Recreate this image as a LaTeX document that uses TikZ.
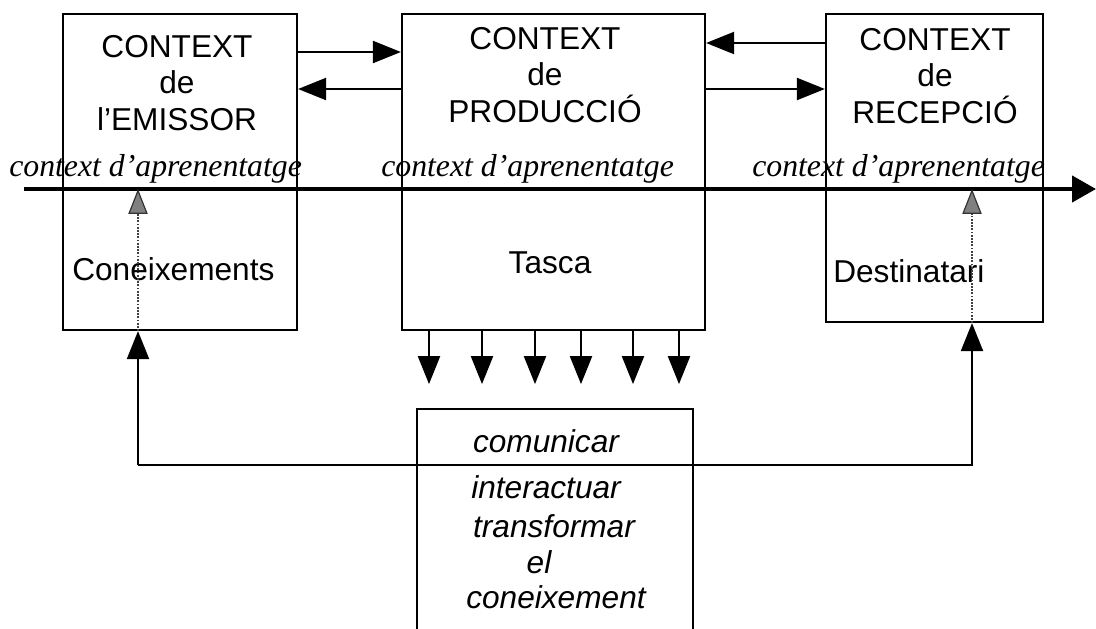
\documentclass[tikz,border=0pt]{standalone}
\usepackage{fontspec}
\setmainfont{Liberation Serif}
\setsansfont{Liberation Sans}
\usetikzlibrary{arrows.meta}

\tikzset{
  caixa/.style={draw, line width=0.55mm, inner sep=0pt},
  titol/.style={font=\sffamily\fontsize{22.5}{26}\selectfont, align=center, anchor=north, inner sep=0pt},
  etiqueta/.style={font=\sffamily\fontsize{22.5}{26}\selectfont, inner sep=0pt},
  aprenent/.style={font=\rmfamily\itshape\fontsize{22.6}{26}\selectfont, inner sep=0pt, anchor=base west},
  accio/.style={font=\sffamily\itshape\fontsize{22.5}{26}\selectfont, inner sep=0pt, anchor=base},
  fletxa/.style={line width=0.55mm, -{Triangle[width=5.5mm,length=7mm]}},
  eix/.style={line width=1.1mm, -{Triangle[width=6.5mm,length=6mm]}},
  puntejat/.style={draw=black!75, line width=0.45mm, densely dotted,
    -{Triangle[width=4.8mm,length=6.2mm,fill=black!50,color=black!80,line width=0.3mm]}}
}

\begin{document}
\begin{tikzpicture}[x=0.25mm,y=-0.25mm]
  \useasboundingbox (0,0) rectangle (1096,629);
  \clip (0,0) rectangle (1096,629);

  % els tres contextos
  \node[caixa, minimum width=58.5mm, minimum height=79mm] (emissor) at (180,172) {};
  \node[caixa, minimum width=75.75mm, minimum height=79mm] (produccio) at (553.5,172) {};
  \node[caixa, minimum width=54.25mm, minimum height=77mm] (recepcio) at (934.5,168) {};
  \node[caixa, minimum width=69mm, minimum height=75.5mm] (tasques) at (555,560) {};

  \node[titol] (temissor) at (177,35) {CONTEXT\\de\\l'EMISSOR};
  \node[titol] (tproduccio) at (545,27) {CONTEXT\\de\\PRODUCCIÓ};
  \node[titol] (trecepcio) at (935,28) {CONTEXT\\de\\RECEPCIÓ};

  % eix del context d'aprenentatge
  \coordinate (eixA) at (24,189);
  \coordinate (eixB) at (1096,189);
  \draw[eix] (eixA) -- (eixB);
  \node[aprenent] (apr1) at (9,176) {context d'aprenentatge};
  \node[aprenent] (apr2) at (381,176) {context d'aprenentatge};
  \node[aprenent] (apr3) at (752,176) {context d'aprenentatge};

  \node[etiqueta, anchor=base west] (coneix) at (72,280) {Coneixements};
  \node[etiqueta, anchor=base] (tasca) at (550,273) {Tasca};
  \node[etiqueta, anchor=base west] (desti) at (833,282) {Destinatari};

  % fletxes entre contextos
  \draw[fletxa] (emissor.east |- 0,52) -- (produccio.west |- 0,52);
  \draw[fletxa] (produccio.west |- 0,89) -- (emissor.east |- 0,89);
  \draw[fletxa] (recepcio.west |- 0,43) -- (produccio.east |- 0,43);
  \draw[fletxa] (produccio.east |- 0,89) -- (recepcio.west |- 0,89);

  % de la tasca cap avall
  \foreach \x in {429,482,535,581,633,679}
    \draw[fletxa] (produccio.south -| \x,0) -- ++(0,53);

  \node[accio] (comunicar) at (546,452) {comunicar};
  \node[accio] (interactuar) at (546,498) {interactuar};
  \node[accio] (transformar) at (554,537) {transformar};
  \node[accio] (el) at (539,573) {el};
  \node[accio] (coneixement) at (556,608) {coneixement};

  % retorn cap als extrems
  \coordinate (retA) at (138,465);
  \coordinate (retB) at (972,465);
  \draw[fletxa] (retA) -- (retB) -- (recepcio.south -| retB);
  \draw[fletxa] (retA) -- (emissor.south -| retA);
  \draw[puntejat] (emissor.south -| retA) -- (eixA -| retA);
  \draw[puntejat] (recepcio.south -| retB) -- (eixA -| retB);
\end{tikzpicture}
\end{document}
